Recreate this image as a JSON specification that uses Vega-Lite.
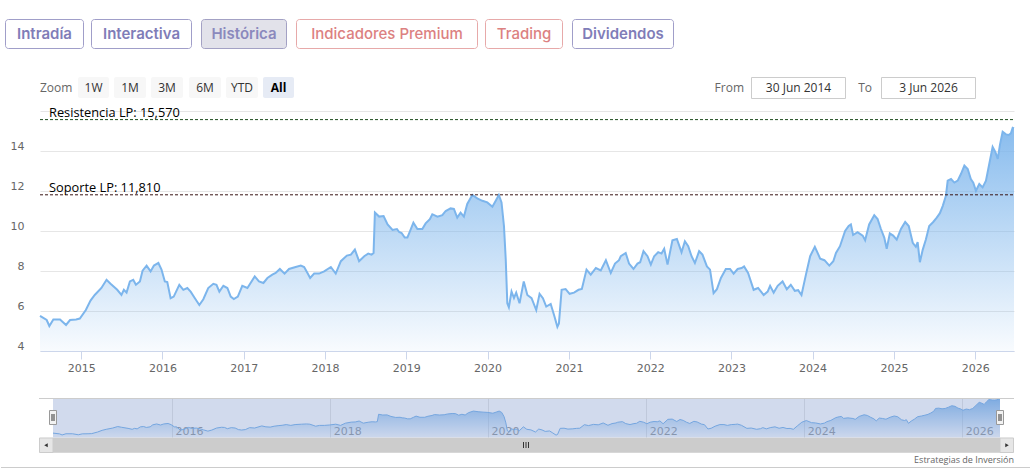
{
  "$schema": "https://vega.github.io/schema/vega-lite/v6.json",
  "width": 1030,
  "height": 471,
  "autosize": {"type": "fit", "contains": "padding"},
  "padding": 0,
  "background": "#ffffff",
  "config": {"view": {"stroke": null}},
  "datasets": {
    "prices": [
      {"date":"2014-06-30","close":5.76},{"date":"2014-07-30","close":5.55},{"date":"2014-08-11","close":5.25},{"date":"2014-08-29","close":5.58},
      {"date":"2014-09-28","close":5.58},{"date":"2014-10-25","close":5.3},{"date":"2014-11-12","close":5.55},{"date":"2014-12-09","close":5.58},
      {"date":"2014-12-26","close":5.62},{"date":"2015-01-22","close":6.05},{"date":"2015-02-12","close":6.52},{"date":"2015-03-03","close":6.8},
      {"date":"2015-04-02","close":7.15},{"date":"2015-04-25","close":7.56},{"date":"2015-05-13","close":7.36},{"date":"2015-06-12","close":7.06},
      {"date":"2015-07-01","close":6.8},{"date":"2015-07-12","close":7.06},{"date":"2015-07-24","close":6.92},{"date":"2015-08-08","close":7.48},
      {"date":"2015-08-23","close":7.56},{"date":"2015-09-04","close":7.31},{"date":"2015-09-22","close":7.48},{"date":"2015-10-04","close":8.02},
      {"date":"2015-10-22","close":8.27},{"date":"2015-11-09","close":7.98},{"date":"2015-11-24","close":8.27},{"date":"2015-12-14","close":8.4},
      {"date":"2015-12-28","close":8.07},{"date":"2016-01-12","close":7.48},{"date":"2016-01-23","close":7.45},{"date":"2016-02-07","close":6.64},
      {"date":"2016-02-21","close":6.72},{"date":"2016-03-17","close":7.31},{"date":"2016-04-04","close":7.06},{"date":"2016-04-22","close":7.15},
      {"date":"2016-05-07","close":6.97},{"date":"2016-05-26","close":6.64},{"date":"2016-06-15","close":6.3},{"date":"2016-07-03","close":6.59},
      {"date":"2016-07-25","close":7.15},{"date":"2016-08-17","close":7.36},{"date":"2016-08-31","close":7.31},{"date":"2016-09-13","close":6.97},
      {"date":"2016-10-01","close":7.26},{"date":"2016-10-19","close":7.15},{"date":"2016-11-03","close":6.72},{"date":"2016-11-17","close":6.6},
      {"date":"2016-12-05","close":6.72},{"date":"2016-12-25","close":7.26},{"date":"2017-01-17","close":7.15},{"date":"2017-02-19","close":7.73},
      {"date":"2017-03-10","close":7.48},{"date":"2017-03-30","close":7.4},{"date":"2017-04-17","close":7.65},{"date":"2017-05-09","close":7.82},
      {"date":"2017-05-24","close":7.9},{"date":"2017-06-12","close":8.1},{"date":"2017-07-03","close":7.87},{"date":"2017-07-23","close":8.1},
      {"date":"2017-08-22","close":8.2},{"date":"2017-09-14","close":8.27},{"date":"2017-09-29","close":8.2},{"date":"2017-10-14","close":7.9},
      {"date":"2017-10-26","close":7.65},{"date":"2017-11-13","close":7.87},{"date":"2017-12-05","close":7.87},{"date":"2017-12-28","close":7.98},
      {"date":"2018-01-27","close":8.2},{"date":"2018-02-18","close":7.87},{"date":"2018-03-13","close":8.49},{"date":"2018-04-09","close":8.77},
      {"date":"2018-04-27","close":8.82},{"date":"2018-05-15","close":9.07},{"date":"2018-06-03","close":8.49},{"date":"2018-06-26","close":8.74},
      {"date":"2018-07-14","close":8.87},{"date":"2018-07-29","close":8.82},{"date":"2018-08-07","close":8.9},{"date":"2018-08-13","close":10.92},
      {"date":"2018-09-01","close":10.72},{"date":"2018-09-21","close":10.75},{"date":"2018-10-09","close":10.33},{"date":"2018-10-31","close":10.05},
      {"date":"2018-11-20","close":10.1},{"date":"2018-11-30","close":9.95},{"date":"2018-12-11","close":9.9},{"date":"2018-12-25","close":9.67},
      {"date":"2019-01-06","close":9.67},{"date":"2019-01-21","close":10.08},{"date":"2019-02-02","close":10.42},{"date":"2019-02-20","close":10.1},
      {"date":"2019-03-14","close":10.1},{"date":"2019-03-29","close":10.38},{"date":"2019-04-17","close":10.59},{"date":"2019-04-28","close":10.84},
      {"date":"2019-05-21","close":10.72},{"date":"2019-06-12","close":10.79},{"date":"2019-06-27","close":11.0},{"date":"2019-07-19","close":11.13},
      {"date":"2019-08-03","close":11.1},{"date":"2019-08-18","close":10.67},{"date":"2019-09-02","close":10.92},{"date":"2019-09-17","close":10.72},
      {"date":"2019-10-02","close":11.35},{"date":"2019-10-25","close":11.8},{"date":"2019-11-16","close":11.63},{"date":"2019-12-09","close":11.51},
      {"date":"2019-12-31","close":11.43},{"date":"2020-01-23","close":11.21},{"date":"2020-02-07","close":11.51},{"date":"2020-02-21","close":11.8},
      {"date":"2020-03-04","close":11.43},{"date":"2020-03-15","close":10.25},{"date":"2020-03-23","close":8.57},{"date":"2020-03-30","close":6.39},
      {"date":"2020-04-06","close":6.19},{"date":"2020-04-18","close":6.97},{"date":"2020-04-29","close":6.65},{"date":"2020-05-09","close":6.92},
      {"date":"2020-05-24","close":6.39},{"date":"2020-06-12","close":7.48},{"date":"2020-06-28","close":6.8},{"date":"2020-07-17","close":6.64},
      {"date":"2020-08-07","close":6.05},{"date":"2020-08-22","close":6.86},{"date":"2020-09-06","close":6.64},{"date":"2020-09-21","close":6.22},
      {"date":"2020-10-11","close":6.35},{"date":"2020-10-26","close":5.8},{"date":"2020-11-10","close":5.21},{"date":"2020-11-17","close":5.38},
      {"date":"2020-11-29","close":7.06},{"date":"2020-12-17","close":7.1},{"date":"2021-01-04","close":6.86},{"date":"2021-01-24","close":6.92},
      {"date":"2021-02-13","close":7.06},{"date":"2021-02-28","close":7.1},{"date":"2021-03-21","close":8.07},{"date":"2021-04-09","close":7.82},
      {"date":"2021-05-02","close":8.15},{"date":"2021-05-24","close":8.03},{"date":"2021-06-16","close":8.54},{"date":"2021-07-08","close":7.9},
      {"date":"2021-07-27","close":8.37},{"date":"2021-08-14","close":8.54},{"date":"2021-08-22","close":8.74},{"date":"2021-09-13","close":8.9},
      {"date":"2021-09-28","close":8.37},{"date":"2021-10-18","close":8.1},{"date":"2021-11-05","close":8.37},{"date":"2021-11-17","close":8.44},
      {"date":"2021-12-02","close":8.99},{"date":"2021-12-20","close":8.74},{"date":"2022-01-04","close":8.32},{"date":"2022-01-19","close":8.74},
      {"date":"2022-02-06","close":8.94},{"date":"2022-02-21","close":8.87},{"date":"2022-03-05","close":9.11},{"date":"2022-03-20","close":8.32},
      {"date":"2022-04-11","close":9.54},{"date":"2022-05-01","close":9.6},{"date":"2022-05-22","close":8.94},{"date":"2022-06-06","close":9.49},
      {"date":"2022-06-21","close":9.24},{"date":"2022-07-06","close":8.74},{"date":"2022-07-21","close":8.4},{"date":"2022-08-09","close":8.99},
      {"date":"2022-08-24","close":8.82},{"date":"2022-09-13","close":8.23},{"date":"2022-09-27","close":8.07},{"date":"2022-10-13","close":6.89},
      {"date":"2022-10-28","close":7.09},{"date":"2022-11-15","close":7.65},{"date":"2022-12-07","close":8.1},{"date":"2022-12-26","close":8.1},
      {"date":"2023-01-11","close":7.87},{"date":"2023-01-29","close":8.1},{"date":"2023-02-16","close":8.15},{"date":"2023-02-27","close":8.23},
      {"date":"2023-03-17","close":7.9},{"date":"2023-04-11","close":7.06},{"date":"2023-05-01","close":7.15},{"date":"2023-05-26","close":6.8},
      {"date":"2023-06-13","close":6.97},{"date":"2023-06-24","close":7.26},{"date":"2023-07-10","close":6.92},{"date":"2023-07-28","close":7.26},
      {"date":"2023-08-19","close":7.48},{"date":"2023-09-07","close":7.09},{"date":"2023-09-25","close":7.31},{"date":"2023-10-13","close":7.01},
      {"date":"2023-10-28","close":7.04},{"date":"2023-11-12","close":6.8},{"date":"2023-12-02","close":7.82},{"date":"2023-12-21","close":8.74},
      {"date":"2024-01-11","close":9.21},{"date":"2024-02-04","close":8.62},{"date":"2024-02-23","close":8.54},{"date":"2024-03-16","close":8.27},
      {"date":"2024-04-03","close":8.49},{"date":"2024-04-15","close":8.9},{"date":"2024-05-03","close":9.24},{"date":"2024-05-26","close":10.0},
      {"date":"2024-06-11","close":10.25},{"date":"2024-06-21","close":10.33},{"date":"2024-07-01","close":9.8},{"date":"2024-07-21","close":9.94},
      {"date":"2024-08-13","close":9.77},{"date":"2024-08-24","close":9.54},{"date":"2024-09-11","close":10.33},{"date":"2024-10-04","close":10.79},
      {"date":"2024-10-19","close":10.6},{"date":"2024-11-03","close":10.1},{"date":"2024-11-18","close":9.67},{"date":"2024-11-29","close":9.11},
      {"date":"2024-12-13","close":9.88},{"date":"2024-12-28","close":9.77},{"date":"2025-01-13","close":9.57},{"date":"2025-02-01","close":10.1},
      {"date":"2025-02-20","close":10.45},{"date":"2025-03-08","close":10.25},{"date":"2025-03-26","close":9.41},{"date":"2025-04-09","close":9.21},
      {"date":"2025-04-17","close":9.44},{"date":"2025-04-27","close":8.44},{"date":"2025-05-10","close":9.07},{"date":"2025-05-24","close":9.57},
      {"date":"2025-06-08","close":10.25},{"date":"2025-06-26","close":10.45},{"date":"2025-07-12","close":10.67},{"date":"2025-07-26","close":10.89},
      {"date":"2025-08-08","close":11.26},{"date":"2025-08-22","close":11.76},{"date":"2025-08-30","close":12.52},{"date":"2025-09-14","close":12.6},
      {"date":"2025-09-29","close":12.42},{"date":"2025-10-14","close":12.52},{"date":"2025-10-29","close":12.86},{"date":"2025-11-13","close":13.27},
      {"date":"2025-11-28","close":13.1},{"date":"2025-12-12","close":12.6},{"date":"2025-12-23","close":12.42},{"date":"2026-01-04","close":12.01},
      {"date":"2026-01-19","close":12.35},{"date":"2026-02-03","close":12.18},{"date":"2026-02-18","close":12.52},{"date":"2026-03-05","close":13.36},
      {"date":"2026-03-20","close":14.2},{"date":"2026-04-01","close":13.95},{"date":"2026-04-12","close":13.61},{"date":"2026-04-22","close":14.32},
      {"date":"2026-05-04","close":14.96},{"date":"2026-05-19","close":14.83},{"date":"2026-05-31","close":14.8},{"date":"2026-06-10","close":14.88},
      {"date":"2026-06-18","close":15.16},{"date":"2026-06-24","close":15.13}
    ],
    "levels": [
      {"label": "Resistencia LP: 15,570", "level": 15.57, "kind": "resistencia", "from": "2014-06-30", "to": "2026-06-24"},
      {"label": "Soporte LP: 11,810", "level": 11.81, "kind": "soporte", "from": "2014-06-30", "to": "2026-06-24"}
    ]
  },
  "resolve": {"scale": {"x": "independent", "y": "independent"}},
  "layer": [
    {
      "layer": [
        {
          "data": {"name": "prices"},
          "mark": {"type": "area", "color": {"gradient": "linear", "x1": 0, "y1": 0, "x2": 0, "y2": 1, "stops": [{"offset": 0, "color": "rgba(124,181,236,0.9)"}, {"offset": 1, "color": "rgba(124,181,236,0.05)"}]}},
          "encoding": {
            "x": {
              "field": "date", "type": "temporal",
              "scale": {"domain": [{"year": 2014, "month": 6, "date": 30}, {"year": 2026, "month": 6, "date": 24}], "range": [39, 1013], "nice": false},
              "axis": {
                "orient": "bottom", "offset": -120, "title": null,
                "values": [{"year":2015,"month":1,"date":1},{"year":2016,"month":1,"date":1},{"year":2017,"month":1,"date":1},{"year":2018,"month":1,"date":1},{"year":2019,"month":1,"date":1},{"year":2020,"month":1,"date":1},{"year":2021,"month":1,"date":1},{"year":2022,"month":1,"date":1},{"year":2023,"month":1,"date":1},{"year":2024,"month":1,"date":1},{"year":2025,"month":1,"date":1},{"year":2026,"month":1,"date":1}],
                "format": "%Y", "grid": false, "domainColor": "#ccd6eb", "tickColor": "#ccd6eb", "tickSize": 8,
                "labelPadding": 3, "labelFont": "DejaVu Sans", "labelFontSize": 11, "labelColor": "#666666",
                "labelFlush": false, "labelOverlap": false
              }
            },
            "y": {
              "field": "close", "type": "quantitative",
              "scale": {"domain": [4, 16], "range": [351, 111], "zero": false, "nice": false},
              "axis": {
                "orient": "left", "offset": -39, "title": null, "values": [4, 6, 8, 10, 12, 14, 16],
                "labelExpr": "datum.value == 16 ? '' : datum.label",
                "grid": true, "gridColor": "#e6e6e6", "domain": false, "ticks": false, "tickSize": 0,
                "labelPadding": 16, "labelOffset": -5, "labelFont": "DejaVu Sans", "labelFontSize": 11, "labelColor": "#666666"
              }
            },
            "y2": {"datum": 4}
          }
        },
        {
          "data": {"name": "prices"},
          "mark": {"type": "line", "color": "#7cb5ec", "strokeWidth": 2},
          "encoding": {"x": {"field": "date", "type": "temporal"}, "y": {"field": "close", "type": "quantitative"}}
        },
        {
          "data": {"name": "levels"},
          "transform": [{"filter": "datum.kind == 'resistencia'"}],
          "mark": {"type": "rule", "color": "#1e4d1e", "strokeWidth": 1, "strokeDash": [3, 2]},
          "encoding": {
            "x": {"field": "from", "type": "temporal"},
            "x2": {"field": "to"},
            "y": {"field": "level", "type": "quantitative"}
          }
        },
        {
          "data": {"name": "levels"},
          "transform": [{"filter": "datum.kind == 'soporte'"}],
          "mark": {"type": "rule", "color": "#3a1414", "strokeWidth": 1, "strokeDash": [3, 2]},
          "encoding": {
            "x": {"field": "from", "type": "temporal"},
            "x2": {"field": "to"},
            "y": {"field": "level", "type": "quantitative"}
          }
        },
        {
          "data": {"name": "levels"},
          "mark": {"type": "text", "align": "left", "baseline": "alphabetic", "dx": 9, "dy": -3, "font": "Open Sans", "fontSize": 12.8, "color": "#000000"},
          "encoding": {
            "x": {"field": "from", "type": "temporal"},
            "y": {"field": "level", "type": "quantitative"},
            "text": {"field": "label"}
          }
        }
      ]
    },
    {
      "data": {"name": "prices"},
      "encoding": {
        "x": {
          "field": "date", "type": "temporal",
          "scale": {"domain": [{"year": 2014, "month": 6, "date": 30}, {"year": 2026, "month": 6, "date": 24}], "range": [52, 999], "nice": false},
          "axis": {
            "orient": "top", "offset": -437.5, "title": null,
            "values": [{"year":2016,"month":1,"date":1},{"year":2018,"month":1,"date":1},{"year":2020,"month":1,"date":1},{"year":2022,"month":1,"date":1},{"year":2024,"month":1,"date":1},{"year":2026,"month":1,"date":1}],
            "format": "%Y", "grid": true, "gridColor": "#e6e6e6", "domain": false, "ticks": false, "tickSize": 0,
            "labelAlign": "left", "labelBaseline": "alphabetic", "labelPadding": 3.5, "labelOffset": 3,
            "labelFont": "DejaVu Sans", "labelFontSize": 11, "labelColor": "#999999", "labelFlush": false, "labelOverlap": false
          }
        }
      },
      "layer": [
        {
          "mark": {"type": "area", "color": {"gradient": "linear", "x1": 0, "y1": 0, "x2": 0, "y2": 1, "stops": [{"offset": 0, "color": "rgba(124,181,236,0.9)"}, {"offset": 1, "color": "rgba(124,181,236,0.05)"}]}},
          "encoding": {
            "y": {"field": "close", "type": "quantitative", "scale": {"domain": [4.5, 15.3], "range": [437.7, 398.3], "zero": false, "nice": false}, "axis": null},
            "y2": {"datum": 4.5}
          }
        },
        {
          "mark": {"type": "line", "color": "#7cb5ec", "strokeWidth": 1},
          "encoding": {"y": {"field": "close", "type": "quantitative", "axis": null}}
        }
      ]
    },
    {
      "data": {"values": [{}]},
      "layer": [
        {"mark": {"type": "rect", "fill": "rgba(102,133,194,0.3)"},
         "encoding": {"x": {"datum": 52, "type": "quantitative", "scale": {"domain": [0, 1030], "range": [0, 1030], "nice": false, "zero": false}, "axis": null}, "x2": {"datum": 999},
                      "y": {"datum": 398.3, "type": "quantitative", "scale": {"domain": [0, 471], "range": [0, 471], "nice": false, "zero": false}, "axis": null}, "y2": {"datum": 437.7}}},
        {"mark": {"type": "rule", "color": "#cccccc", "strokeWidth": 1},
         "encoding": {"x": {"datum": 38, "axis": null}, "x2": {"datum": 1013}, "y": {"datum": 398.5, "axis": null}}},
        {"mark": {"type": "rect", "fill": "#f2f2f2"},
         "encoding": {"x": {"datum": 38, "axis": null}, "x2": {"datum": 1013}, "y": {"datum": 437.7, "axis": null}, "y2": {"datum": 452.7}}},
        {"mark": {"type": "rect", "fill": "#cccccc"},
         "encoding": {"x": {"datum": 52, "axis": null}, "x2": {"datum": 999}, "y": {"datum": 437.7, "axis": null}, "y2": {"datum": 452.7}}},
        {"mark": {"type": "rect", "fill": "#e6e6e6", "stroke": "#cccccc", "strokeWidth": 1},
         "encoding": {"x": {"datum": 38.5, "axis": null}, "x2": {"datum": 52}, "y": {"datum": 438, "axis": null}, "y2": {"datum": 452.5}}},
        {"mark": {"type": "rect", "fill": "#e6e6e6", "stroke": "#cccccc", "strokeWidth": 1},
         "encoding": {"x": {"datum": 999, "axis": null}, "x2": {"datum": 1012.5}, "y": {"datum": 438, "axis": null}, "y2": {"datum": 452.5}}},
        {"mark": {"type": "point", "shape": "triangle-left", "filled": true, "color": "#333333", "size": 16, "opacity": 1},
         "encoding": {"x": {"datum": 45, "axis": null}, "y": {"datum": 445.2, "axis": null}}},
        {"mark": {"type": "point", "shape": "triangle-right", "filled": true, "color": "#333333", "size": 16, "opacity": 1},
         "encoding": {"x": {"datum": 1006, "axis": null}, "y": {"datum": 445.2, "axis": null}}},
        {"mark": {"type": "rule", "color": "#333333", "strokeWidth": 1},
         "encoding": {"x": {"datum": 522.5, "axis": null}, "y": {"datum": 442, "axis": null}, "y2": {"datum": 448}}},
        {"mark": {"type": "rule", "color": "#333333", "strokeWidth": 1},
         "encoding": {"x": {"datum": 525, "axis": null}, "y": {"datum": 442, "axis": null}, "y2": {"datum": 448}}},
        {"mark": {"type": "rule", "color": "#333333", "strokeWidth": 1},
         "encoding": {"x": {"datum": 527.5, "axis": null}, "y": {"datum": 442, "axis": null}, "y2": {"datum": 448}}},
        {"mark": {"type": "rect", "fill": "#f2f2f2", "stroke": "#999999", "strokeWidth": 1},
         "encoding": {"x": {"datum": 48.5, "axis": null}, "x2": {"datum": 55.5}, "y": {"datum": 410.5, "axis": null}, "y2": {"datum": 424.5}}},
        {"mark": {"type": "rect", "fill": "#f2f2f2", "stroke": "#999999", "strokeWidth": 1},
         "encoding": {"x": {"datum": 995.5, "axis": null}, "x2": {"datum": 1002.5}, "y": {"datum": 410.5, "axis": null}, "y2": {"datum": 424.5}}},
        {"mark": {"type": "rule", "color": "#333333", "strokeWidth": 1},
         "encoding": {"x": {"datum": 51, "axis": null}, "y": {"datum": 414, "axis": null}, "y2": {"datum": 421}}},
        {"mark": {"type": "rule", "color": "#333333", "strokeWidth": 1},
         "encoding": {"x": {"datum": 53, "axis": null}, "y": {"datum": 414, "axis": null}, "y2": {"datum": 421}}},
        {"mark": {"type": "rule", "color": "#333333", "strokeWidth": 1},
         "encoding": {"x": {"datum": 998, "axis": null}, "y": {"datum": 414, "axis": null}, "y2": {"datum": 421}}},
        {"mark": {"type": "rule", "color": "#333333", "strokeWidth": 1},
         "encoding": {"x": {"datum": 1000, "axis": null}, "y": {"datum": 414, "axis": null}, "y2": {"datum": 421}}},
        {"mark": {"type": "text", "text": "Estrategias de Inversión", "align": "right", "baseline": "middle", "font": "Open Sans", "fontSize": 9, "color": "#666666"},
         "encoding": {"x": {"datum": 1013, "axis": null}, "y": {"datum": 459.5, "axis": null}}},
        {"mark": {"type": "rule", "color": "#cccccc", "strokeWidth": 1},
         "encoding": {"x": {"datum": 0, "axis": null}, "x2": {"datum": 1030}, "y": {"datum": 467.5, "axis": null}}},

        {"mark": {"type": "rect", "fill": "#ffffff", "stroke": "#a09ec9", "strokeWidth": 1, "cornerRadius": 3},
         "encoding": {"x": {"datum": 4.5, "axis": null}, "x2": {"datum": 82.5}, "y": {"datum": 19.5, "axis": null}, "y2": {"datum": 48.5}}},
        {"mark": {"type": "text", "text": "Intradía", "font": "Inter", "fontSize": 15, "fontWeight": 600, "color": "#807db8"},
         "encoding": {"x": {"datum": 43.5, "axis": null}, "y": {"datum": 34, "axis": null}}},
        {"mark": {"type": "rect", "fill": "#ffffff", "stroke": "#a09ec9", "strokeWidth": 1, "cornerRadius": 3},
         "encoding": {"x": {"datum": 90.5, "axis": null}, "x2": {"datum": 190.5}, "y": {"datum": 19.5, "axis": null}, "y2": {"datum": 48.5}}},
        {"mark": {"type": "text", "text": "Interactiva", "font": "Inter", "fontSize": 15, "fontWeight": 600, "color": "#807db8"},
         "encoding": {"x": {"datum": 140.5, "axis": null}, "y": {"datum": 34, "axis": null}}},
        {"mark": {"type": "rect", "fill": "#e2e2ea", "stroke": "#a3a1c4", "strokeWidth": 1, "cornerRadius": 3},
         "encoding": {"x": {"datum": 200.5, "axis": null}, "x2": {"datum": 285.5}, "y": {"datum": 19.5, "axis": null}, "y2": {"datum": 48.5}}},
        {"mark": {"type": "text", "text": "Histórica", "font": "Inter", "fontSize": 15, "fontWeight": 600, "color": "#8b89bd"},
         "encoding": {"x": {"datum": 243, "axis": null}, "y": {"datum": 34, "axis": null}}},
        {"mark": {"type": "rect", "fill": "#ffffff", "stroke": "#e7a9a9", "strokeWidth": 1, "cornerRadius": 3},
         "encoding": {"x": {"datum": 295.5, "axis": null}, "x2": {"datum": 476.5}, "y": {"datum": 19.5, "axis": null}, "y2": {"datum": 48.5}}},
        {"mark": {"type": "text", "text": "Indicadores Premium", "font": "Inter", "fontSize": 15, "fontWeight": 500, "color": "#dc8181"},
         "encoding": {"x": {"datum": 386, "axis": null}, "y": {"datum": 34, "axis": null}}},
        {"mark": {"type": "rect", "fill": "#ffffff", "stroke": "#e7a9a9", "strokeWidth": 1, "cornerRadius": 3},
         "encoding": {"x": {"datum": 484.5, "axis": null}, "x2": {"datum": 561.5}, "y": {"datum": 19.5, "axis": null}, "y2": {"datum": 48.5}}},
        {"mark": {"type": "text", "text": "Trading", "font": "Inter", "fontSize": 15, "fontWeight": 500, "color": "#dc8181"},
         "encoding": {"x": {"datum": 523, "axis": null}, "y": {"datum": 34, "axis": null}}},
        {"mark": {"type": "rect", "fill": "#ffffff", "stroke": "#a09ec9", "strokeWidth": 1, "cornerRadius": 3},
         "encoding": {"x": {"datum": 571.5, "axis": null}, "x2": {"datum": 672.5}, "y": {"datum": 19.5, "axis": null}, "y2": {"datum": 48.5}}},
        {"mark": {"type": "text", "text": "Dividendos", "font": "Inter", "fontSize": 15, "fontWeight": 600, "color": "#807db8"},
         "encoding": {"x": {"datum": 622, "axis": null}, "y": {"datum": 34, "axis": null}}},

        {"mark": {"type": "text", "text": "Zoom", "align": "left", "font": "Open Sans", "fontSize": 12, "color": "#666666"},
         "encoding": {"x": {"datum": 39, "axis": null}, "y": {"datum": 88, "axis": null}}},
        {"mark": {"type": "rect", "fill": "#f7f7f7", "cornerRadius": 2},
         "encoding": {"x": {"datum": 77, "axis": null}, "x2": {"datum": 108}, "y": {"datum": 77, "axis": null}, "y2": {"datum": 98}}},
        {"mark": {"type": "text", "text": "1W", "font": "Open Sans", "fontSize": 12, "color": "#333333"},
         "encoding": {"x": {"datum": 92.5, "axis": null}, "y": {"datum": 88, "axis": null}}},
        {"mark": {"type": "rect", "fill": "#f7f7f7", "cornerRadius": 2},
         "encoding": {"x": {"datum": 113, "axis": null}, "x2": {"datum": 145}, "y": {"datum": 77, "axis": null}, "y2": {"datum": 98}}},
        {"mark": {"type": "text", "text": "1M", "font": "Open Sans", "fontSize": 12, "color": "#333333"},
         "encoding": {"x": {"datum": 129, "axis": null}, "y": {"datum": 88, "axis": null}}},
        {"mark": {"type": "rect", "fill": "#f7f7f7", "cornerRadius": 2},
         "encoding": {"x": {"datum": 150, "axis": null}, "x2": {"datum": 182}, "y": {"datum": 77, "axis": null}, "y2": {"datum": 98}}},
        {"mark": {"type": "text", "text": "3M", "font": "Open Sans", "fontSize": 12, "color": "#333333"},
         "encoding": {"x": {"datum": 166, "axis": null}, "y": {"datum": 88, "axis": null}}},
        {"mark": {"type": "rect", "fill": "#f7f7f7", "cornerRadius": 2},
         "encoding": {"x": {"datum": 188, "axis": null}, "x2": {"datum": 220}, "y": {"datum": 77, "axis": null}, "y2": {"datum": 98}}},
        {"mark": {"type": "text", "text": "6M", "font": "Open Sans", "fontSize": 12, "color": "#333333"},
         "encoding": {"x": {"datum": 204, "axis": null}, "y": {"datum": 88, "axis": null}}},
        {"mark": {"type": "rect", "fill": "#f7f7f7", "cornerRadius": 2},
         "encoding": {"x": {"datum": 225, "axis": null}, "x2": {"datum": 257}, "y": {"datum": 77, "axis": null}, "y2": {"datum": 98}}},
        {"mark": {"type": "text", "text": "YTD", "font": "Open Sans", "fontSize": 12, "color": "#333333"},
         "encoding": {"x": {"datum": 241, "axis": null}, "y": {"datum": 88, "axis": null}}},
        {"mark": {"type": "rect", "fill": "#e6ebf5", "cornerRadius": 2},
         "encoding": {"x": {"datum": 262, "axis": null}, "x2": {"datum": 293}, "y": {"datum": 77, "axis": null}, "y2": {"datum": 98}}},
        {"mark": {"type": "text", "text": "All", "font": "Open Sans", "fontSize": 12, "fontWeight": "bold", "color": "#000000"},
         "encoding": {"x": {"datum": 277.5, "axis": null}, "y": {"datum": 88, "axis": null}}},

        {"mark": {"type": "text", "text": "From", "align": "right", "font": "Open Sans", "fontSize": 12, "color": "#666666"},
         "encoding": {"x": {"datum": 743, "axis": null}, "y": {"datum": 88, "axis": null}}},
        {"mark": {"type": "rect", "fill": "#ffffff", "stroke": "#cccccc", "strokeWidth": 1},
         "encoding": {"x": {"datum": 750.5, "axis": null}, "x2": {"datum": 844.5}, "y": {"datum": 77.5, "axis": null}, "y2": {"datum": 98.5}}},
        {"mark": {"type": "text", "text": "30 Jun 2014", "font": "Open Sans", "fontSize": 12, "color": "#333333"},
         "encoding": {"x": {"datum": 797.5, "axis": null}, "y": {"datum": 88, "axis": null}}},
        {"mark": {"type": "text", "text": "To", "align": "right", "font": "Open Sans", "fontSize": 12, "color": "#666666"},
         "encoding": {"x": {"datum": 871, "axis": null}, "y": {"datum": 88, "axis": null}}},
        {"mark": {"type": "rect", "fill": "#ffffff", "stroke": "#cccccc", "strokeWidth": 1},
         "encoding": {"x": {"datum": 880.5, "axis": null}, "x2": {"datum": 974.5}, "y": {"datum": 77.5, "axis": null}, "y2": {"datum": 98.5}}},
        {"mark": {"type": "text", "text": "3 Jun 2026", "font": "Open Sans", "fontSize": 12, "color": "#333333"},
         "encoding": {"x": {"datum": 927.5, "axis": null}, "y": {"datum": 88, "axis": null}}}
      ]
    }
  ]
}
